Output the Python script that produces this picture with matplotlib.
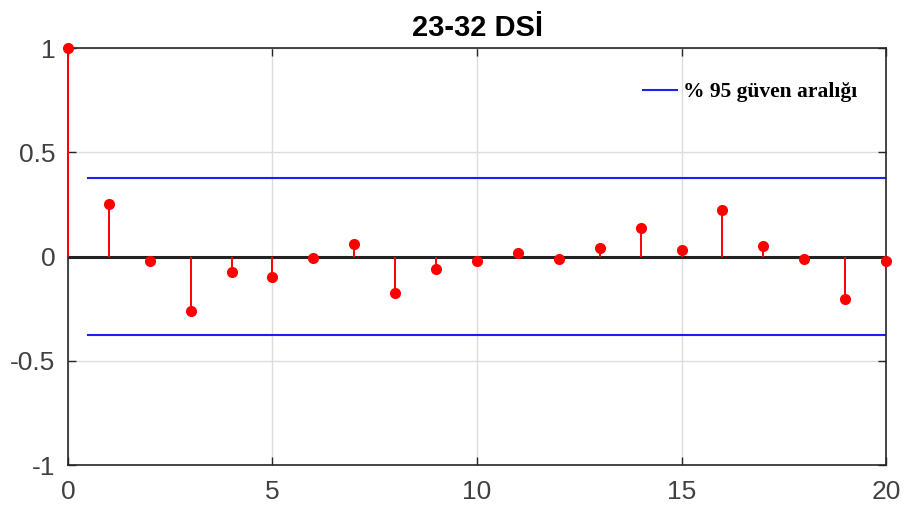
import numpy as np
import matplotlib.pyplot as plt

lags = list(range(0, 21))
acf = [1.0, 0.25, -0.02, -0.26, -0.075, -0.10, -0.005, 0.06, -0.175, -0.06,
       -0.02, 0.015, -0.01, 0.04, 0.135, 0.03, 0.225, 0.05, -0.01, -0.205, -0.02]
conf_bound = 0.375
bound_x = [0.5, 20]

fig = plt.figure(figsize=(9.05, 5.11), dpi=100)
ax = fig.add_axes([0.0751, 0.09, 0.904, 0.816])

ax.vlines(lags, 0, acf, color="red", linewidth=1.4, zorder=3)
ax.plot(lags, acf, "o", color="red", markersize=7, zorder=4, clip_on=False)
ax.axhline(0, color="#222222", linewidth=2.2, zorder=2)

ax.plot(bound_x, [conf_bound, conf_bound], color="#2020ee", linewidth=1.5,
        label="% 95 güven aralığı", zorder=2)
ax.plot(bound_x, [-conf_bound, -conf_bound], color="#2020ee", linewidth=1.5, zorder=2)

ax.set_xlim(0, 20)
ax.set_ylim(-1, 1)
ax.set_xticks([0, 5, 10, 15, 20])
ax.set_yticks([-1, -0.5, 0, 0.5, 1])
ax.set_yticklabels(["-1", "-0.5", "0", "0.5", "1"])
ax.grid(True, color="#dddddd", linewidth=1)
ax.set_axisbelow(True)
ax.tick_params(direction="in", length=6, width=1, colors="#262626",
               labelsize=19, top=True, right=True)
ax.tick_params(axis="x", pad=11)
ax.tick_params(axis="y", pad=9)
for lab in ax.get_xticklabels() + ax.get_yticklabels():
    lab.set_family("Liberation Sans")
    lab.set_color("#404040")
for sp in ax.spines.values():
    sp.set_color("#262626")
    sp.set_linewidth(1.2)

ax.set_title("23-32 DSİ", fontsize=21, fontweight="bold",
             family="Liberation Sans", pad=9)

ax.legend(loc="upper right", bbox_to_anchor=(0.988, 0.965), frameon=False,
          handlelength=1.6, handletextpad=0.25,
          prop={"family": "Liberation Serif", "weight": "bold", "size": 15.5})

fig.savefig("out.png", dpi=100)
